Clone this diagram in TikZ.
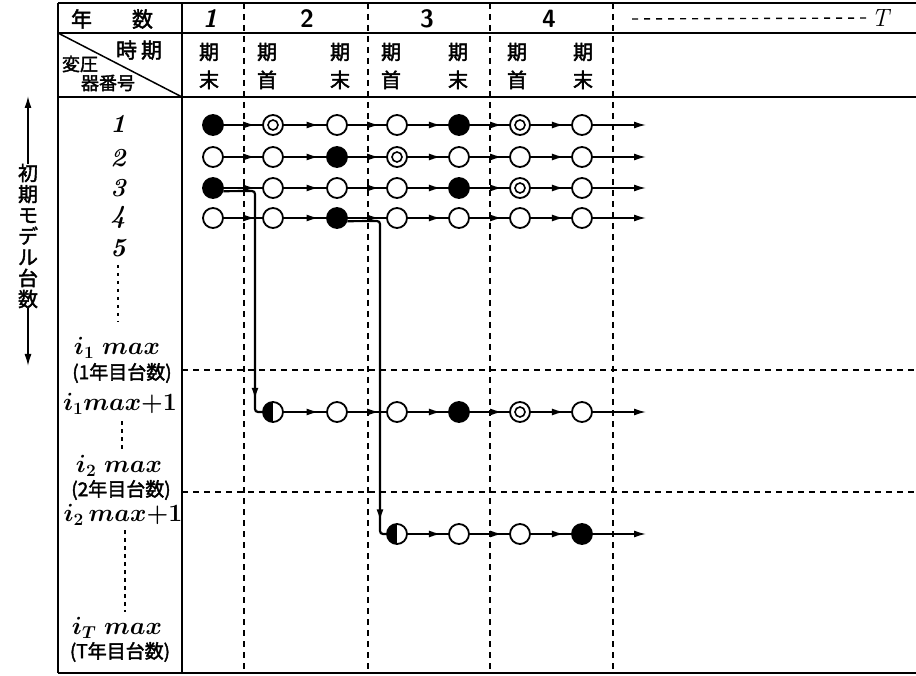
\documentclass[tikz,border=0pt]{standalone}
\usepackage{fontspec}
\newfontfamily\jp{Noto Sans CJK JP}[BoldFont=Noto Sans CJK JP,BoldFeatures={FakeBold=2}]
\usetikzlibrary{arrows.meta,decorations.markings}
\begin{document}
\begin{tikzpicture}[x=1pt,y=-1pt,
  flowtip/.tip={Latex[length=12pt,width=7pt]},
  frame/.style={line width=1.8pt},
  grid/.style={line width=1.4pt,dash pattern=on 6pt off 5pt},
  dots/.style={line width=1.8pt,dash pattern=on 3.5pt off 4.5pt},
  st/.style={circle,draw,line width=1.8pt,minimum size=20pt,inner sep=0pt,fill=white},
  full/.style={st,fill=black},
  ring/.style={st,path picture={\draw[line width=1.6pt] (path picture bounding box.center) circle (5pt);}},
  half/.style={st,path picture={\fill[black] (path picture bounding box.south west) rectangle (path picture bounding box.north);}},
  flow/.style={line width=1.5pt,postaction={decorate},decoration={markings,mark=at position 0.82 with {\arrow{flowtip}}}},
  tail/.style={line width=1.5pt,-flowtip},
  drop/.style={line width=2.2pt,rounded corners=3pt,postaction={decorate},decoration={markings,mark=at position #1 with {\arrow{flowtip}}}},
  hd/.style={font=\jp\bfseries\fontsize{21}{21}\selectfont,inner sep=0pt},
  per/.style={font=\jp\bfseries\fontsize{20}{28}\selectfont,inner sep=0pt,align=center},
  num/.style={font=\sffamily\bfseries\fontsize{25}{25}\selectfont,inner sep=0pt},
  lnum/.style={font=\bfseries\itshape\fontsize{26}{26}\selectfont,inner sep=0pt},
  imax/.style={font=\boldmath\fontsize{25}{25}\selectfont,inner sep=0pt},
  cnt/.style={font=\jp\bfseries\fontsize{19}{19}\selectfont,inner sep=0pt},
  jsm/.style={font=\jp\bfseries\fontsize{18}{18}\selectfont,inner sep=0pt},
  vlab/.style={font=\jp\bfseries\fontsize{20}{21}\selectfont,inner sep=0pt,align=center},
  side/.style={line width=1.5pt,-{Latex[length=12pt,width=7pt]}}
]
\useasboundingbox (0,0) rectangle (916,676);

% frame
\draw[frame] (58,3) -- (916,3);
\draw[frame] (58,33) -- (916,33);
\draw[frame] (58,97) -- (916,97);
\draw[frame] (58,673) -- (916,673);
\draw[frame] (58,3) -- (58,673);
\draw[frame] (182,3) -- (182,673);
\draw[line width=1.5pt] (58,33) -- (182,97);

% grid
\foreach \gx in {244,368,490,613} \draw[grid] (\gx,3) -- (\gx,673);
\draw[grid] (182,370) -- (916,370);
\draw[grid] (182,492) -- (916,492);

% header
\node[hd] (hnen) at (112,19) {年\hspace{40pt}数};
\node[num] (h1) at (210,19) {\itshape 1};
\node[num] (h2) at (307,19) {2};
\node[num] (h3) at (427,19) {3};
\node[num] (h4) at (549,19) {4};
\node[font=\itshape\fontsize{25}{25}\selectfont,inner sep=0pt] (hT) at (880,18) {T};
\coordinate (hdash) at (632,19);
\draw[line width=1.4pt,dash pattern=on 6pt off 6pt] (hdash) -- (hT.west);

\node[hd] (hjiki) at (139,50) {時\hspace{4pt}期};
\node[jsm] (hhen) at (80,64) {変圧};
\node[jsm] (hban) at (108,83) {器番号};

\node[per] (p1) at (209,66) {期\\末};
\node[per] (p2) at (267,66) {期\\首};
\node[per] (p3) at (340,66) {期\\末};
\node[per] (p4) at (391,66) {期\\首};
\node[per] (p5) at (458,66) {期\\末};
\node[per] (p6) at (517,66) {期\\首};
\node[per] (p7) at (583,66) {期\\末};

% left labels
\node[lnum] (l1) at (118,124) {1};
\node[lnum] (l2) at (118,158) {2};
\node[lnum] (l3) at (118,188) {3};
\node[lnum] (l4) at (118,217) {4};
\node[lnum] (l5) at (118,248) {5};
\draw[dots] (118,265) -- (118,322);
\node[imax] (m1) at (117,348) {$i_1\;max$};
\node[cnt] (c1) at (122,373) {(1年目台数)};
\node[imax] (m1p) at (120,404) {$i_1max{+}1$};
\draw[dots] (122,421) -- (122,452);
\node[imax] (m2) at (119,466) {$i_2\;max$};
\node[cnt] (c2) at (121,490) {(2年目台数)};
\node[imax] (m2p) at (123,515) {$i_2\,max{+}1$};
\draw[dots] (125,530) -- (125,612);
\node[imax] (mT) at (117,628) {$i_T\;max$};
\node[cnt] (cT) at (120,652) {(T年目台数)};

% side label
\node[vlab] (vl) at (28,236) {初\\期\\モ\\デ\\ル\\台\\数};
\coordinate (vtop) at (28,96);
\coordinate (vbot) at (28,366);
\draw[side] (vl.north) -- (vtop);
\draw[side] (vl.south) -- (vbot);

% states
\def\xa{213}\def\xb{273}\def\xc{337}\def\xd{397}\def\xe{459}\def\xf{520}\def\xg{582}
% row 1
\node[full] (r1-1) at (\xa,125) {};
\node[ring] (r1-2) at (\xb,125) {};
\node[st]   (r1-3) at (\xc,125) {};
\node[st]   (r1-4) at (\xd,125) {};
\node[full] (r1-5) at (\xe,125) {};
\node[ring] (r1-6) at (\xf,125) {};
\node[st]   (r1-7) at (\xg,125) {};
% row 2
\node[st]   (r2-1) at (\xa,157) {};
\node[st]   (r2-2) at (\xb,157) {};
\node[full] (r2-3) at (\xc,157) {};
\node[ring] (r2-4) at (\xd,157) {};
\node[st]   (r2-5) at (\xe,157) {};
\node[st]   (r2-6) at (\xf,157) {};
\node[st]   (r2-7) at (\xg,157) {};
% row 3
\node[full] (r3-1) at (\xa,188) {};
\node[st]   (r3-2) at (\xb,188) {};
\node[st]   (r3-3) at (\xc,188) {};
\node[st]   (r3-4) at (\xd,188) {};
\node[full] (r3-5) at (\xe,188) {};
\node[ring] (r3-6) at (\xf,188) {};
\node[st]   (r3-7) at (\xg,188) {};
% row 4
\node[st]   (r4-1) at (\xa,218) {};
\node[st]   (r4-2) at (\xb,218) {};
\node[full] (r4-3) at (\xc,218) {};
\node[st]   (r4-4) at (\xd,218) {};
\node[st]   (r4-5) at (\xe,218) {};
\node[st]   (r4-6) at (\xf,218) {};
\node[st]   (r4-7) at (\xg,218) {};
% row 5
\node[half] (r5-2) at (\xb,412) {};
\node[st]   (r5-3) at (\xc,412) {};
\node[st]   (r5-4) at (\xd,412) {};
\node[full] (r5-5) at (\xe,412) {};
\node[ring] (r5-6) at (\xf,412) {};
\node[st]   (r5-7) at (\xg,412) {};
% row 6
\node[half] (r6-4) at (\xd,534) {};
\node[st]   (r6-5) at (\xe,534) {};
\node[st]   (r6-6) at (\xf,534) {};
\node[full] (r6-7) at (\xg,534) {};

\foreach \r/\yy in {1/125,2/157,3/188,4/218,5/412,6/534} \coordinate (e\r) at (646,\yy);

\foreach \r in {1,2,3,4}{
  \foreach \a/\b in {1/2,2/3,3/4,4/5,5/6,6/7} \draw[flow] (r\r-\a) -- (r\r-\b);
  \draw[tail] (r\r-7) -- (e\r);
}
\foreach \a/\b in {2/3,3/4,4/5,5/6,6/7} \draw[flow] (r5-\a) -- (r5-\b);
\draw[tail] (r5-7) -- (e5);
\foreach \a/\b in {4/5,5/6,6/7} \draw[flow] (r6-\a) -- (r6-\b);
\draw[tail] (r6-7) -- (e6);

% transfers
\coordinate (k1) at (255,191);
\coordinate (k2) at (255,412);
\draw[drop=0.93] (r3-1.-17) -- (k1) -- (k2) -- (r5-2.west);
\coordinate (k3) at (380,221);
\coordinate (k4) at (380,534);
\draw[drop=0.95] (r4-3.-17) -- (k3) -- (k4) -- (r6-4.west);
\end{tikzpicture}
\end{document}
